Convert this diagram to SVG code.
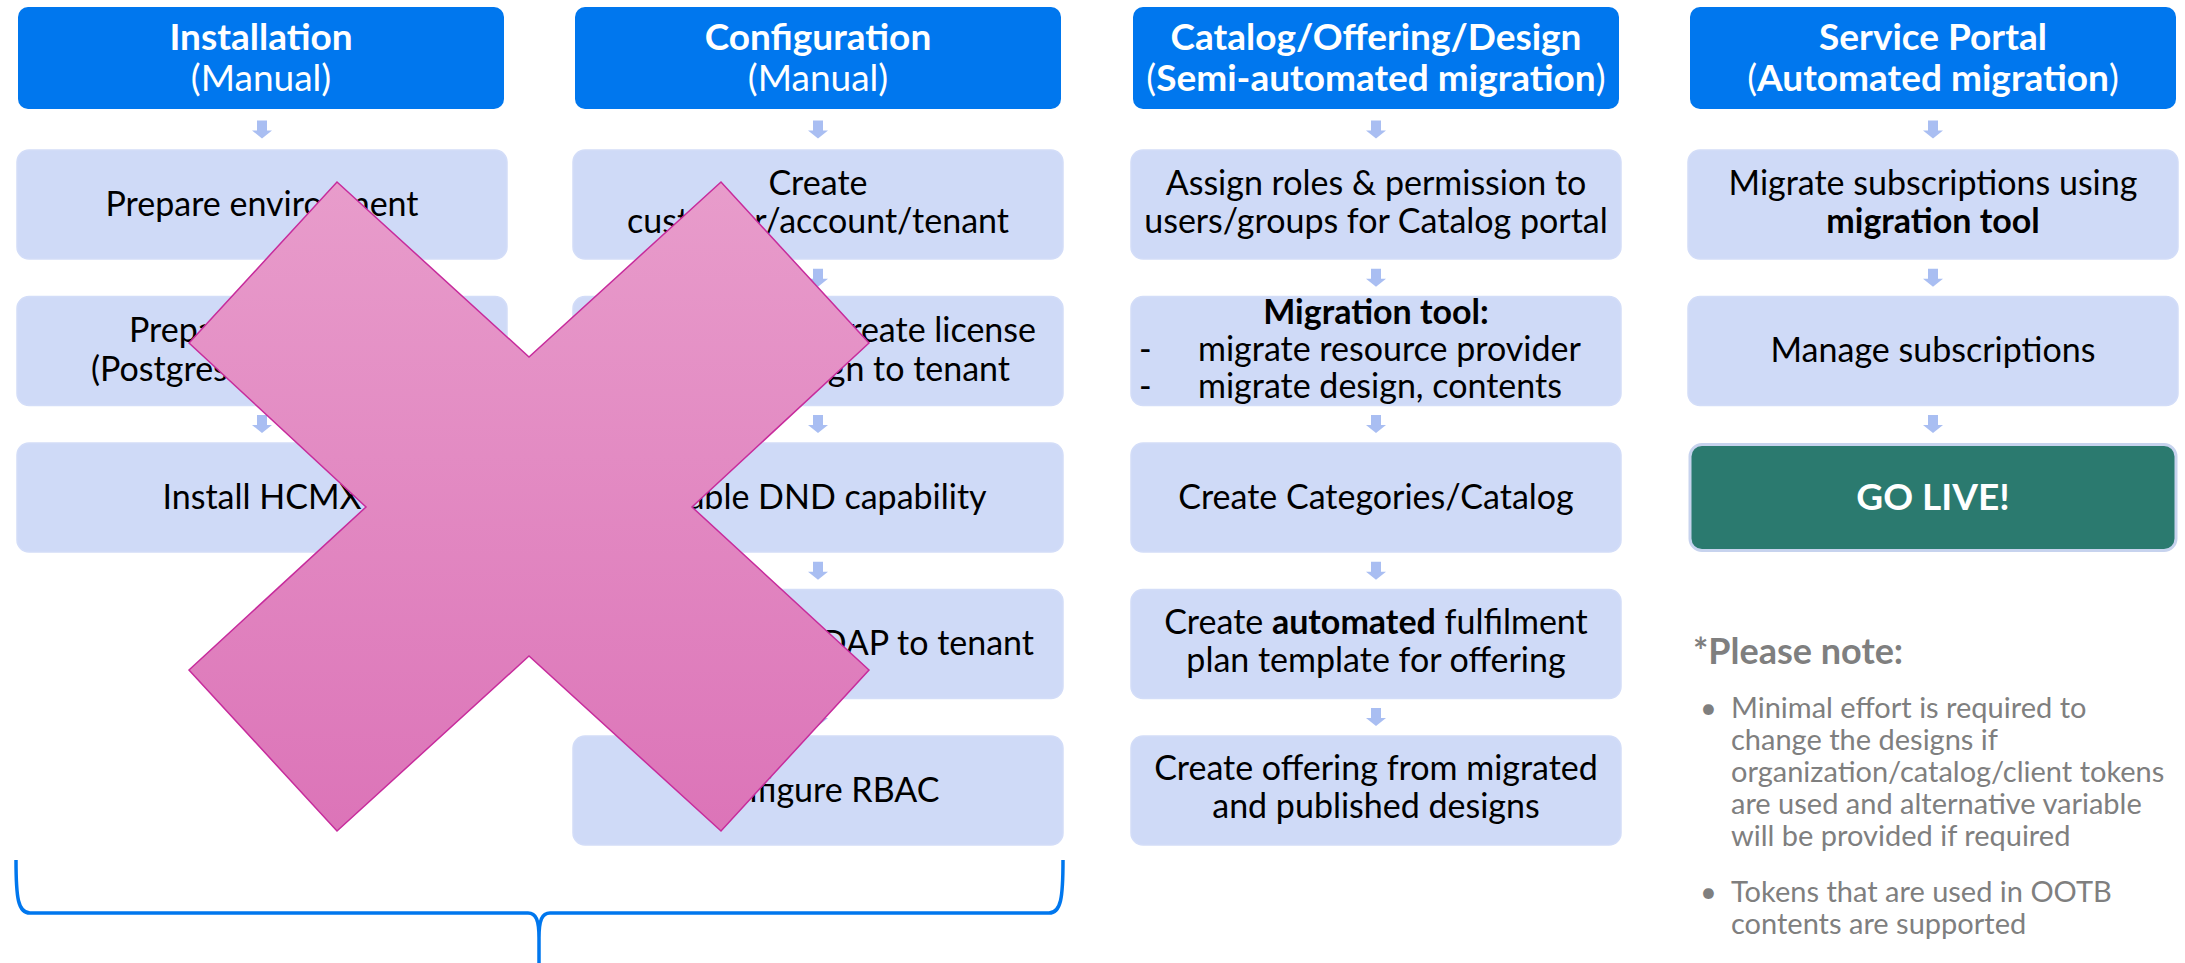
<svg xmlns="http://www.w3.org/2000/svg" xmlns:xlink="http://www.w3.org/1999/xlink" width="2185" height="963" viewBox="0 0 2185 963">
<style>
.hdr{fill:#0077EE}
.box{fill:#CFDAF7;stroke:#D3DDF8;stroke-width:1.5}
.ht{font-family:Lato,"Liberation Sans",sans-serif;font-size:37px;fill:#FFFFFF;text-anchor:middle}
.b{font-weight:bold}
.t{font-family:Lato,"Liberation Sans",sans-serif;font-size:34px;fill:#000000;text-anchor:middle}
.ts{font-family:Lato,"Liberation Sans",sans-serif;font-size:34px;fill:#000000}
.te{font-family:Lato,"Liberation Sans",sans-serif;font-size:34px;fill:#000000;text-anchor:end}
.note{font-family:Lato,"Liberation Sans",sans-serif;font-size:29px;fill:#7F7F7F}
.nt{font-family:Lato,"Liberation Sans",sans-serif;font-size:36px;font-weight:bold;fill:#7F7F7F}
.arr{fill:#A9BEF2}
</style>
<defs>
<path id="dn" d="M-5,0 h10 v10 h5 l-10,8 l-10,-8 h5 z"/>
<linearGradient id="xg" x1="0" y1="182" x2="0" y2="831" gradientUnits="userSpaceOnUse">
<stop offset="0" stop-color="#E89CCB"/>
<stop offset="1" stop-color="#DC74B8"/>
</linearGradient>
</defs>

<g id="col1-header"><rect class="hdr" x="18" y="7" width="486" height="102" rx="10"/><text class="ht b" x="261" y="50">Installation</text><text class="ht" x="261" y="91">(Manual)</text></g>
<g id="col2-header"><rect class="hdr" x="575" y="7" width="486" height="102" rx="10"/><text class="ht b" x="818" y="50">Configuration</text><text class="ht" x="818" y="91">(Manual)</text></g>
<g id="col3-header"><rect class="hdr" x="1133" y="7" width="486" height="102" rx="10"/><text class="ht b" x="1376" y="50">Catalog/Offering/Design</text><text class="ht" x="1376" y="91">(<tspan class="b">Semi-automated migration</tspan>)</text></g>
<g id="col4-header"><rect class="hdr" x="1690" y="7" width="486" height="102" rx="10"/><text class="ht b" x="1933" y="50">Service Portal</text><text class="ht" x="1933" y="91">(<tspan class="b">Automated migration</tspan>)</text></g>

<g id="c1b1"><rect class="box" x="17" y="150" width="490" height="109" rx="12"/><text class="t" x="262" y="216">Prepare environment</text></g>
<g id="c1b2"><rect class="box" x="17" y="296.5" width="490" height="109" rx="12"/><text class="ts" x="129" y="342">Prepa</text><text class="ts" x="91" y="381">(Postgres</text></g>
<g id="c1b3"><rect class="box" x="17" y="443" width="490" height="109" rx="12"/><text class="t" x="262" y="509">Install HCMX</text></g>

<g id="c2b1"><rect class="box" x="573" y="150" width="490" height="109" rx="12"/><text class="t" x="818" y="195">Create</text><text class="t" x="818" y="233">customer/account/tenant</text></g>
<g id="c2b2"><rect class="box" x="573" y="296.5" width="490" height="109" rx="12"/><text class="te" x="1036" y="342">reate license</text><text class="te" x="1010" y="381">gn to tenant</text></g>
<g id="c2b3"><rect class="box" x="573" y="443" width="490" height="109" rx="12"/><text class="t" x="818" y="509">Enable DND capability</text></g>
<g id="c2b4"><rect class="box" x="573" y="589.5" width="490" height="109" rx="12"/><text class="te" x="1034" y="655">DAP to tenant</text></g>
<g id="c2b5"><rect class="box" x="573" y="736" width="490" height="109" rx="12"/><text class="t" x="818" y="802">Configure RBAC</text></g>

<g id="c3b1"><rect class="box" x="1131" y="150" width="490" height="109" rx="12"/><text class="t" x="1376" y="195">Assign roles &amp; permission to</text><text class="t" x="1376" y="233">users/groups for Catalog portal</text></g>
<g id="c3b2"><rect class="box" x="1131" y="296.5" width="490" height="109" rx="12"/><text class="t b" x="1376" y="324">Migration tool:</text><text class="ts" x="1139" y="361">-</text><text class="ts" x="1198" y="361">migrate resource provider</text><text class="ts" x="1139" y="398">-</text><text class="ts" x="1198" y="398">migrate design, contents</text></g>
<g id="c3b3"><rect class="box" x="1131" y="443" width="490" height="109" rx="12"/><text class="t" x="1376" y="509">Create Categories/Catalog</text></g>
<g id="c3b4"><rect class="box" x="1131" y="589.5" width="490" height="109" rx="12"/><text class="t" x="1376" y="634">Create <tspan class="b">automated</tspan> fulfilment</text><text class="t" x="1376" y="672">plan template for offering</text></g>
<g id="c3b5"><rect class="box" x="1131" y="736" width="490" height="109" rx="12"/><text class="t" x="1376" y="780">Create offering from migrated</text><text class="t" x="1376" y="818">and published designs</text></g>

<g id="c4b1"><rect class="box" x="1688" y="150" width="490" height="109" rx="12"/><text class="t" x="1933" y="195">Migrate subscriptions using</text><text class="t b" x="1933" y="233">migration tool</text></g>
<g id="c4b2"><rect class="box" x="1688" y="296.5" width="490" height="109" rx="12"/><text class="t" x="1933" y="362">Manage subscriptions</text></g>
<g id="golive"><rect x="1690" y="444.5" width="486" height="106" rx="12" fill="#2B7A6F" stroke="#C7D3EE" stroke-width="3"/><text class="ht b" x="1933" y="510">GO LIVE!</text></g>

<g id="connectors" class="arr">
<use xlink:href="#dn" x="262" y="120.5"/><use xlink:href="#dn" x="262" y="268.75"/><use xlink:href="#dn" x="262" y="415"/>
<use xlink:href="#dn" x="818" y="120.5"/><use xlink:href="#dn" x="818" y="268.75"/><use xlink:href="#dn" x="818" y="415"/><use xlink:href="#dn" x="818" y="561.75"/><use xlink:href="#dn" x="818" y="708"/>
<use xlink:href="#dn" x="1376" y="120.5"/><use xlink:href="#dn" x="1376" y="268.75"/><use xlink:href="#dn" x="1376" y="415"/><use xlink:href="#dn" x="1376" y="561.75"/><use xlink:href="#dn" x="1376" y="708"/>
<use xlink:href="#dn" x="1933" y="120.5"/><use xlink:href="#dn" x="1933" y="268.75"/><use xlink:href="#dn" x="1933" y="415"/>
</g>

<g id="cross"><polygon points="189,343 337,182 529,357 721,182 869,343 692,507 869,670 721,831 529,656 337,831 189,670 366,507" fill="url(#xg)" stroke="#C72C9C" stroke-width="1.5" stroke-linejoin="miter"/></g>

<g id="note">
<text class="nt" x="1693" y="664">*Please note:</text>
<text class="note" x="1700" y="718">•</text>
<text class="note" x="1731" y="718">Minimal effort is required to</text>
<text class="note" x="1731" y="750">change the designs if</text>
<text class="note" x="1731" y="782">organization/catalog/client tokens</text>
<text class="note" x="1731" y="814">are used and alternative variable</text>
<text class="note" x="1731" y="846">will be provided if required</text>
<text class="note" x="1700" y="902">•</text>
<text class="note" x="1731" y="902">Tokens that are used in OOTB</text>
<text class="note" x="1731" y="934">contents are supported</text>
</g>

<g id="brace"><path d="M16,860 C16,898 18,913 30,913 L528,913 C536,913 539,920 539,938 L539,963 M539,938 C539,920 542,913 550,913 L1049,913 C1061,913 1063,898 1063,860" fill="none" stroke="#0077EE" stroke-width="3.5"/></g>
</svg>
